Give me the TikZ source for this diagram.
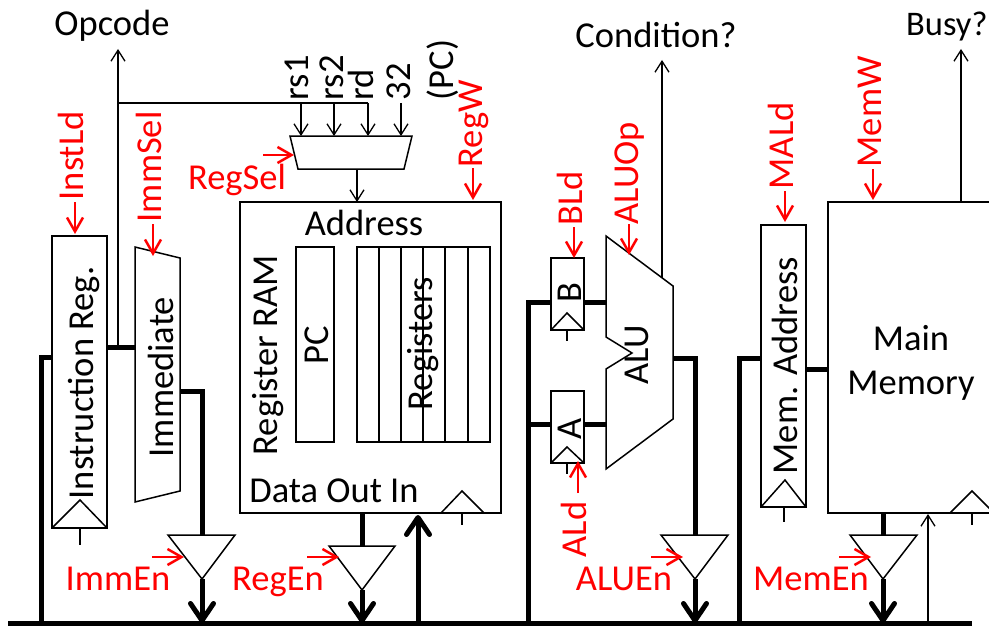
\documentclass[tikz,border=0pt]{standalone}
\usepackage{fontspec}
\setmainfont{Carlito}
\usetikzlibrary{arrows.meta}
\begin{document}
\begin{tikzpicture}[x=1pt,y=-1pt,line cap=butt,line join=miter,
  txt/.style={yshift=-2.5pt,inner sep=0pt,anchor=base,font=\fontsize{36.5}{44}\selectfont},
  vtxt/.style={txt,rotate=90,anchor=base west},
  ctl/.style={txt,text=red},
  vctl/.style={vtxt,text=red},
  block/.style={draw,line width=1.7pt,inner sep=0pt,fill=none},
  thin/.style={line width=1.5pt},
  wire/.style={line width=1.3pt,-{Straight Barb[length=11pt,width=14pt,line width=1.3pt]}},
  bus/.style={line width=5pt},
  busarrow/.style={line width=5pt,-{Straight Barb[round,length=17pt,width=23pt,line width=5pt]}},
  ctlarrow/.style={line width=2.5pt,red,-{Straight Barb[length=14pt,width=16pt,line width=2.5pt]}}]
\clip (0,0) rectangle (989,626);
% bus and wire points
\coordinate (busL) at (8,623.5);
\coordinate (busR) at (972,623.5);
\coordinate (irIn) at (41,357);
\coordinate (irInB) at (41,623);
\coordinate (irInE) at (52,357);
\coordinate (irOut) at (107,347);
\coordinate (immIn) at (135,347);
\coordinate (opcB) at (118,347);
\coordinate (opcT) at (118,49);
\coordinate (sel0) at (118,103);
\coordinate (sel1) at (301,103);
\coordinate (sel2) at (334,103);
\coordinate (sel3) at (368,103);
\coordinate (sel4) at (401,103);
\coordinate (mux1) at (301,136);
\coordinate (mux2) at (334,136);
\coordinate (mux3) at (368,136);
\coordinate (mux4) at (401,136);
\coordinate (muxO) at (357,169);
\coordinate (ramA) at (357,202);
\coordinate (immO) at (180,391);
\coordinate (immC) at (202,391);
\coordinate (immT) at (202,535);
\coordinate (immB) at (202,579);
\coordinate (immD) at (202,623);
\coordinate (ramO) at (362,513);
\coordinate (ramT) at (362,546);
\coordinate (ramB) at (362,590);
\coordinate (ramD) at (362,623);
\coordinate (ramI) at (418,515);
\coordinate (ramU) at (418,623);
\coordinate (aluBus) at (528,302);
\coordinate (aluBusB) at (528,623);
\coordinate (aluBusA) at (528,424);
\coordinate (bIn) at (551,302);
\coordinate (bOut) at (584,302);
\coordinate (aIn) at (551,424);
\coordinate (aOut) at (584,424);
\coordinate (aluB) at (606,302);
\coordinate (aluA) at (606,424);
\coordinate (aluO) at (673,358);
\coordinate (aluC) at (695,358);
\coordinate (aluT) at (695,535);
\coordinate (aluE) at (695,579);
\coordinate (aluD) at (695,623);
\coordinate (condB) at (662,278);
\coordinate (condT) at (662,60);
\coordinate (marBus) at (739,358);
\coordinate (marBusB) at (739,623);
\coordinate (marIn) at (761,358);
\coordinate (marO) at (806,369);
\coordinate (memA) at (828,369);
\coordinate (memO) at (883,513);
\coordinate (memT) at (883,535);
\coordinate (memB) at (883,579);
\coordinate (memD) at (883,623);
\coordinate (memI) at (928,514);
\coordinate (memU) at (928,623);
\coordinate (busyB) at (961,202);
\coordinate (busyT) at (961,49);
% blocks
\node[block,minimum width=55pt,minimum height=292pt] (instreg) at (79.5,382) {};
\node[block,minimum width=261pt,minimum height=311pt] (ram) at (370.5,357.5) {};
\node[block,minimum width=38pt,minimum height=195pt] (pcbox) at (315,344.5) {};
\node[block,minimum width=133pt,minimum height=195pt] (regbox) at (423.5,344.5) {};
\node[block,minimum width=33pt,minimum height=72pt] (breg) at (567.5,294) {};
\node[block,minimum width=33pt,minimum height=72pt] (areg) at (567.5,427) {};
\node[block,minimum width=45pt,minimum height=282pt] (mar) at (783.5,366) {};
\node[block,minimum width=180pt,minimum height=311pt] (mem) at (918,357.5) {};
\draw[thin] (379,247) -- (379,442);
\draw[thin] (401,247) -- (401,442);
\draw[thin] (423,247) -- (423,442);
\draw[thin] (445,247) -- (445,442);
\draw[thin] (468,247) -- (468,442);
\draw[thin] (290,136) -- (412,136) -- (404,169) -- (298,169) -- cycle;
\draw[thin] (135,247) -- (180,258) -- (180,491) -- (135,502) -- cycle;
\draw[thin] (606,236) -- (673,286) -- (673,419) -- (606,469) -- (606,369) -- (632,353) -- (606,337) -- cycle;
% tristate drivers
\draw[thin] (168,535) -- (235,535) -- (immB) -- cycle;
\draw[thin] (329,546) -- (395,546) -- (ramB) -- cycle;
\draw[thin] (661,535) -- (728,535) -- (aluE) -- cycle;
\draw[thin] (850,535) -- (917,535) -- (memB) -- cycle;
% clock marks
\draw[thin] (52,528) -- (80,500) -- (107,528);
\draw[thin] (80,528) -- (80,545);
\draw[thin] (441,513) -- (462,491) -- (484,513);
\draw[thin] (462,513) -- (462,525);
\draw[thin] (551,330) -- (567,313) -- (584,330);
\draw[thin] (567,330) -- (567,341);
\draw[thin] (551,463) -- (567,447) -- (584,463);
\draw[thin] (567,463) -- (567,474);
\draw[thin] (761,507) -- (785,480) -- (806,507);
\draw[thin] (784,507) -- (784,522);
\draw[thin] (950,513) -- (972,491) -- (994,513);
\draw[thin] (972,513) -- (972,525);
% thin wires
\draw[wire] (opcB) -- (opcT);
\draw[thin] (sel0) -- (sel3);
\draw[wire] (sel1) -- (mux1);
\draw[wire] (sel2) -- (mux2);
\draw[wire] (sel3) -- (mux3);
\draw[wire] (sel4) -- (mux4);
\draw[wire] (muxO) -- (ramA);
\draw[wire] (condB) -- (condT);
\draw[wire] (busyB) -- (busyT);
\draw[wire] (memU) -- (memI);
% bus wires
\draw[bus] (busL) -- (busR);
\draw[bus] (irInE) -- (irIn) -- (irInB);
\draw[bus] (irOut) -- (immIn);
\draw[bus] (immO) -- (immC) -- (immT);
\draw[busarrow] (immB) -- (immD);
\draw[bus] (ramO) -- (ramT);
\draw[busarrow] (ramB) -- (ramD);
\draw[busarrow] (ramU) -- (ramI);
\draw[bus] (bIn) -- (aluBus) -- (aluBusB);
\draw[bus] (aluBusA) -- (aIn);
\draw[bus] (bOut) -- (aluB);
\draw[bus] (aOut) -- (aluA);
\draw[bus] (aluO) -- (aluC) -- (aluT);
\draw[busarrow] (aluE) -- (aluD);
\draw[bus] (marIn) -- (marBus) -- (marBusB);
\draw[bus] (marO) -- (memA);
\draw[bus] (memO) -- (memT);
\draw[busarrow] (memB) -- (memD);
% black labels
\node[txt] (opcode) at (112,33) {Opcode};
\node[txt] (cond) at (656,45) {Condition?};
\node[txt,anchor=base west,font=\fontsize{34.5}{40}\selectfont] (busy) at (906,33) {Busy?};
\node[txt] (addr) at (364,233) {Address};
\node[txt] (data) at (334,500) {Data Out In};
\node[txt] (mainl) at (911,348) {Main};
\node[txt] (meml) at (911,392) {Memory};
\node[vtxt] (irl) at (93,497) {Instruction Reg.};
\node[vtxt] (imml) at (173,455) {Immediate};
\node[vtxt] (raml) at (277,453) {Register RAM};
\node[vtxt] (pcl) at (328,362) {PC};
\node[vtxt] (regl) at (432,408) {Registers};
\node[vtxt] (bl) at (581,300) {B};
\node[vtxt] (al) at (581,437) {A};
\node[vtxt] (alul) at (648,382) {ALU};
\node[vtxt] (marl) at (797,472) {Mem. Address};
\node[vtxt] (rsa) at (308,98) {rs1};
\node[vtxt] (rsb) at (343,98) {rs2};
\node[vtxt] (rdl) at (373,98) {rd};
\node[vtxt] (cst) at (410,98) {32};
\node[vtxt] (pcn) at (453,98) {(PC)};
% control signals
\node[ctl] (regsel) at (237,187) {RegSel};
\node[ctl] (immen) at (118,588) {ImmEn};
\node[ctl] (regen) at (278,588) {RegEn};
\node[ctl] (aluen) at (624,588) {ALUEn};
\node[ctl] (memen) at (811,588) {MemEn};
\node[vctl] (instld) at (83,198) {InstLd};
\node[vctl] (immsel) at (161,220) {ImmSel};
\node[vctl] (regw) at (482,165) {RegW};
\node[vctl] (bld) at (582,223) {BLd};
\node[vctl] (aluop) at (638,222) {ALUOp};
\node[vctl] (ald) at (586,555) {ALd};
\node[vctl] (mald) at (793,187) {MALd};
\node[vctl] (memw) at (881,165) {MemW};
\coordinate (instA) at (75,202);
\coordinate (instB) at (75,234);
\coordinate (immA) at (153,224);
\coordinate (immH) at (153,256);
\coordinate (regwA) at (473,168);
\coordinate (regwB) at (473,200);
\coordinate (rsA) at (263,155);
\coordinate (rsB) at (294,155);
\coordinate (bldA) at (574,227);
\coordinate (bldB) at (574,258);
\coordinate (opA) at (629,224);
\coordinate (opB) at (629,255);
\coordinate (aldA) at (578,493);
\coordinate (aldB) at (578,461);
\coordinate (maA) at (785,191);
\coordinate (maB) at (785,222);
\coordinate (mwA) at (873,169);
\coordinate (mwB) at (873,200);
\coordinate (ieA) at (152,557);
\coordinate (ieB) at (184,557);
\coordinate (reA) at (307,557);
\coordinate (reB) at (339,557);
\coordinate (aeA) at (651,557);
\coordinate (aeB) at (683,557);
\coordinate (meA) at (839,557);
\coordinate (meB) at (871,557);
\draw[ctlarrow] (instA) -- (instB);
\draw[ctlarrow] (immA) -- (immH);
\draw[ctlarrow] (regwA) -- (regwB);
\draw[ctlarrow] (rsA) -- (rsB);
\draw[ctlarrow] (bldA) -- (bldB);
\draw[ctlarrow] (opA) -- (opB);
\draw[ctlarrow] (aldA) -- (aldB);
\draw[ctlarrow] (maA) -- (maB);
\draw[ctlarrow] (mwA) -- (mwB);
\draw[ctlarrow] (ieA) -- (ieB);
\draw[ctlarrow] (reA) -- (reB);
\draw[ctlarrow] (aeA) -- (aeB);
\draw[ctlarrow] (meA) -- (meB);
\end{tikzpicture}
\end{document}
